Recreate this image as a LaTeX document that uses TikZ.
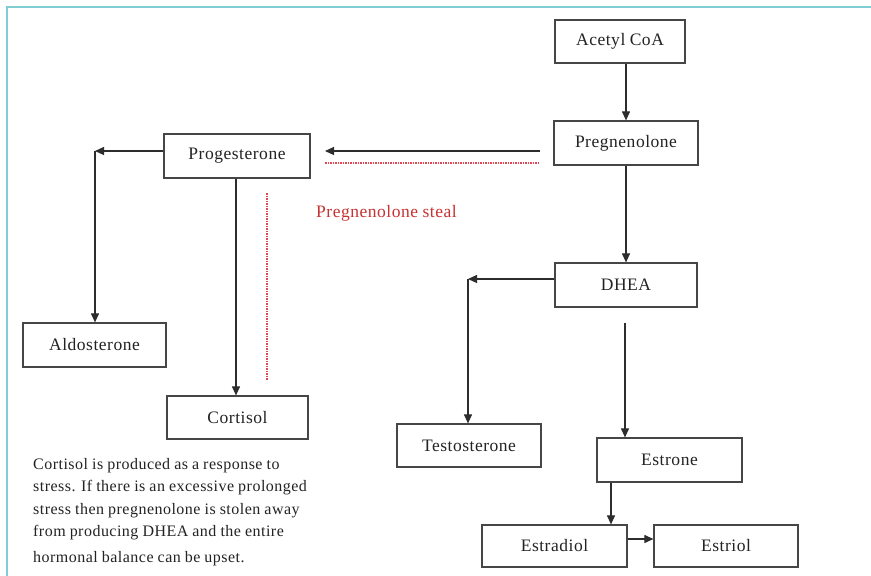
\documentclass[tikz,border=0pt]{standalone}
\usepackage{fontspec}
\setmainfont{Liberation Serif}
\newfontfamily\boxfont[LetterSpace=3]{Liberation Serif}
\newfontfamily\parafont[LetterSpace=3,WordSpace=0.9]{Liberation Serif}
\usetikzlibrary{arrows.meta,calc}
\definecolor{frameteal}{RGB}{128,206,212}
\definecolor{linegray}{RGB}{45,45,45}
\definecolor{boxgray}{RGB}{70,70,70}
\definecolor{stealred}{RGB}{200,50,50}
\definecolor{dotred}{RGB}{225,70,85}
\definecolor{textgray}{RGB}{35,35,35}
\begin{document}
\begin{tikzpicture}[x=1pt,y=-1pt,
  hbox/.style={draw=boxgray,line width=1.2pt,fill=white,inner sep=0pt,text=textgray,font=\boxfont\fontsize{17.5}{20}\selectfont},
  conn/.style={draw=linegray,line width=1.1pt,-{Triangle[length=9pt,width=8pt]}},
  steal/.style={draw=dotred,line width=1.3pt,dash pattern=on 1.5pt off 1pt}]
\useasboundingbox (0,0) rectangle (871,576);
\fill[white] (0,0) rectangle (871,576);
\draw[frameteal,line width=2.5pt] (7,576) -- (7,7) -- (871,7);

\node[hbox,minimum width=130pt,minimum height=43pt] (acetyl) at (620,41.5) {Acetyl CoA};
\node[hbox,minimum width=144pt,minimum height=44pt] (preg) at (626,143) {Pregnenolone};
\node[hbox,minimum width=146pt,minimum height=44pt] (prog) at (237,156) {Progesterone};
\node[hbox,minimum width=143pt,minimum height=44pt] (aldo) at (94.5,345) {Aldosterone};
\node[hbox,minimum width=141pt,minimum height=43pt] (cort) at (237.5,417.5) {Cortisol};
\node[hbox,minimum width=142pt,minimum height=44pt] (dhea) at (626,285) {DHEA};
\node[hbox,minimum width=144pt,minimum height=43pt] (test) at (469,445.5) {Testosterone};
\node[hbox,minimum width=145pt,minimum height=44pt] (estrone) at (669.5,460) {Estrone};
\node[hbox,minimum width=145pt,minimum height=42pt] (estradiol) at (554.5,546) {Estradiol};
\node[hbox,minimum width=144pt,minimum height=42pt] (estriol) at (726,546) {Estriol};

% connectors
\draw[conn] (acetyl.south -| preg.north) -- (preg.north);
\draw[conn] (preg.south) -- (dhea.north);

\coordinate (pgA) at (540,151);
\coordinate (pgB) at (325,151);
\draw[conn] (pgA) -- (pgB);
\coordinate (stA) at (325,163);
\coordinate (stB) at (540,163);
\draw[steal] (stA) -- (stB);
\coordinate (svA) at (267,193);
\coordinate (svB) at (267,380);
\draw[steal] (svA) -- (svB);
\node[text=stealred,anchor=west,inner sep=0pt,font=\boxfont\fontsize{17.5}{20}\selectfont] (stealtxt) at (316,213) {Pregnenolone steal};

\coordinate (c1) at (95,151);
\draw[conn] (prog.west |- c1) -- (c1);
\draw[conn] (c1) -- (aldo.north -| c1);
\draw[conn] (prog.south -| 236,0) -- (cort.north -| 236,0);

\coordinate (c2) at (468,279);
\draw[conn] (dhea.west |- c2) -- (c2);
\draw[conn] (c2) -- (test.north -| c2);

\coordinate (c3) at (625,323);
\draw[conn] (c3) -- (estrone.north -| c3);

\draw[conn] (estrone.south -| 611,0) -- (estradiol.north -| 611,0);
\draw[conn] (estradiol.east |- 0,539) -- (estriol.west |- 0,539);

\node[anchor=north west,align=left,inner sep=0pt,text=textgray,font=\parafont\fontsize{16}{22.5}\selectfont] (para) at (33,458)
 {Cortisol is produced as a response to\\
  stress. If there is an excessive prolonged\\
  stress then pregnenolone is stolen away\\
  from producing DHEA and the entire\\[3pt]
  hormonal balance can be upset.};
\end{tikzpicture}
\end{document}
